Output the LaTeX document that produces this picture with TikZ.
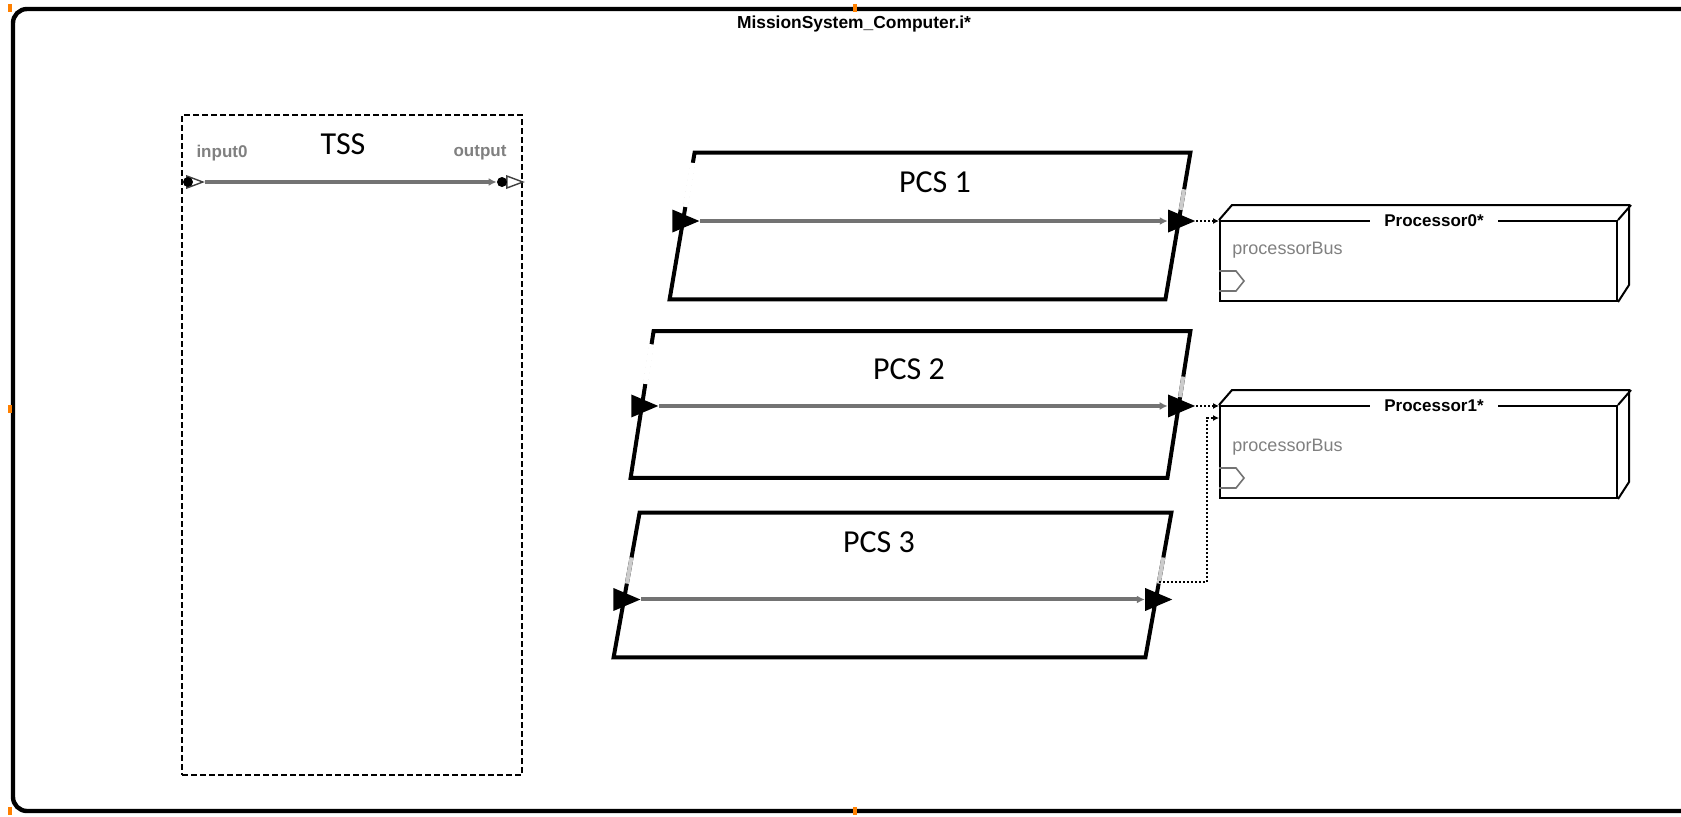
\documentclass[tikz,border=0pt]{standalone}
\usepackage{fontspec}
\setmainfont{Liberation Sans}
\newfontfamily\pcsfont{Carlito}
\usetikzlibrary{positioning,arrows.meta,shapes.geometric,calc}

\begin{document}
\begin{tikzpicture}[
    x=0.5pt, y=-0.5pt,
    font=\fontsize{8.5}{10}\selectfont,
    >={Latex[length=3pt,width=3pt]},
    frame/.style={line width=2.2pt, rounded corners=7pt},
    frametitle/.style={font=\bfseries\fontsize{8.7}{10}\selectfont},
    tssbox/.style={
        draw, line width=1pt,
        dash pattern=on 3pt off 1.5pt,
        minimum width=170pt,
        minimum height=330pt,
        inner sep=0pt
    },
    pcs/.style={
        minimum height=73pt,
        inner sep=0pt
    },
    pcsedge/.style={line width=2pt},
    blocklbl/.style={font=\pcsfont\fontsize{16}{18}\selectfont},
    proc/.style={
        draw, line width=1pt,
        minimum width=198.5pt,
        inner sep=0pt
    },
    procline/.style={line width=1pt},
    proctitle/.style={
        fill=white, inner xsep=7pt, inner ysep=1pt,
        font=\bfseries\fontsize{8.5}{10}\selectfont
    },
    portlbl/.style={text=black!50, font=\bfseries\fontsize{8.5}{10}\selectfont},
    buslbl/.style={text=black!50, anchor=west, font=\fontsize{9}{11}\selectfont},
    busport/.style={draw=black!55, line width=0.8pt},
    inport/.style={
        isosceles triangle, isosceles triangle stretches,
        fill=black, inner sep=0pt, xshift=-1.5pt,
        minimum height=13.5pt, minimum width=11.5pt
    },
    openport/.style={
        isosceles triangle, isosceles triangle stretches,
        draw=black!75, fill=white, line width=0.7pt, inner sep=0pt,
        minimum height=8pt, minimum width=6pt
    },
    dot/.style={circle, fill=black, inner sep=0pt, minimum size=5pt},
    flow/.style={draw=black!55, line width=2pt, -{Latex[length=4pt,width=4pt]}},
    link/.style={line width=1pt, dash pattern=on 1pt off 1pt, -{Latex[length=3pt,width=3pt]}},
    gap/.style={draw=white, line width=2.6pt},
    fade/.style={draw=black!20, line width=2pt}
]

\useasboundingbox (0,0) rectangle (1681,816);
\clip (0,0) rectangle (1681,816);

% Outer frame
\draw[frame] (1700,9) -- (13,9) -- (13,811) -- (1700,811);
\foreach \hx/\hy in {10/8, 855/8, 10/409, 10/811, 855/811}
    \fill[orange] (\hx-2,\hy-4) rectangle (\hx+2,\hy+4);
\node[frametitle] (msc) at (854,24) {MissionSystem\_Computer.i*};

% TSS
\node[tssbox] (tss) at (352,445) {};
\node[blocklbl] (tsslbl) at (343,144) {TSS};
\node[portlbl] (in0lbl) at (222,153) {input0};
\node[portlbl] (outlbl) at (480,153) {output};
\node[openport] (tssin) at (191,182) {};
\node[openport] (tssout) at (511,182) {};
\node[dot] (tssindot) at (188,182) {};
\node[dot] (tssoutdot) at (502,182) {};
\draw[flow] (tssin.east) -- (tssoutdot);

% PCS blocks
\node[pcs, minimum width=260pt] (pcs1) at (930,226) {};
\node[pcs, minimum width=279.5pt] (pcs2) at (910.5,404.5) {};
\node[pcs, minimum width=278.5pt, minimum height=72pt] (pcs3) at (892.5,585) {};

\foreach \n/\s in {pcs1/12.5, pcs2/11.5, pcs3/13} {
    \coordinate (\n-tl) at ([xshift=\s pt]\n.north west);
    \coordinate (\n-tr) at (\n.north east);
    \coordinate (\n-br) at ([xshift=-\s pt]\n.south east);
    \coordinate (\n-bl) at (\n.south west);
    \draw[pcsedge] (\n-tl) -- (\n-tr) -- (\n-br) -- (\n-bl) -- cycle;
}

\node[blocklbl] (pcs1lbl) at (935,182) {PCS 1};
\node[blocklbl] (pcs2lbl) at (909,369) {PCS 2};
\node[blocklbl] (pcs3lbl) at (879,542) {PCS 3};

% Broken edges near the ports
\draw[gap]  ($(pcs1-tl)!0.07!(pcs1-bl)$) -- ($(pcs1-tl)!0.37!(pcs1-bl)$);
\draw[fade] ($(pcs1-tr)!0.25!(pcs1-br)$) -- ($(pcs1-tr)!0.39!(pcs1-br)$);
\draw[gap]  ($(pcs2-tl)!0.09!(pcs2-bl)$) -- ($(pcs2-tl)!0.36!(pcs2-bl)$);
\draw[fade] ($(pcs2-tr)!0.31!(pcs2-br)$) -- ($(pcs2-tr)!0.45!(pcs2-br)$);
\draw[fade] ($(pcs3-tl)!0.31!(pcs3-bl)$) -- ($(pcs3-tl)!0.49!(pcs3-bl)$);
\draw[fade] ($(pcs3-tr)!0.31!(pcs3-br)$) -- ($(pcs3-tr)!0.49!(pcs3-br)$);

% Ports and flows
\node[inport] (pcs1in)  at ($(pcs1-tl)!0.466!(pcs1-bl)$) {};
\node[inport] (pcs1out) at ($(pcs1-tr)!0.466!(pcs1-br)$) {};
\node[inport] (pcs2in)  at ($(pcs2-tl)!0.51!(pcs2-bl)$) {};
\node[inport] (pcs2out) at ($(pcs2-tr)!0.51!(pcs2-br)$) {};
\node[inport] (pcs3in)  at ($(pcs3-tl)!0.60!(pcs3-bl)$) {};
\node[inport] (pcs3out) at ($(pcs3-tr)!0.60!(pcs3-br)$) {};
\coordinate (pcs3bus) at ($(pcs3-tr)!0.48!(pcs3-br)$);

\draw[flow] (pcs1in.east) -- (pcs1out.west);
\draw[flow] (pcs2in.east) -- (pcs2out.west);
\draw[flow] (pcs3in.east) -- (pcs3out.west);

% Processors
\node[proc, minimum height=40pt] (proc0) at (1418.5,261) {};
\node[proc, minimum height=46pt] (proc1) at (1418.5,452) {};

\draw[procline] (proc0.north west) -- ++(13,-15) -- ++(397,0) -- ++(0,80) -- (proc0.south east);
\draw[procline] (proc0.north east) -- ++(13,-15);
\draw[procline] (proc1.north west) -- ++(13,-15) -- ++(397,0) -- ++(0,92) -- (proc1.south east);
\draw[procline] (proc1.north east) -- ++(13,-15);

\node[proctitle] (p0title) at (1434,221) {Processor0*};
\node[proctitle] (p1title) at (1434,406) {Processor1*};

\node[buslbl] (bus0) at ([xshift=3.2pt, yshift=26pt]proc0.south west) {processorBus};
\node[buslbl] (bus1) at ([xshift=3.2pt, yshift=26pt]proc1.south west) {processorBus};
\draw[busport] ([yshift=5.5pt]proc0.south west) -- ++(17,0) -- ++(8,-10) -- ++(-8,-10) -- ++(-17,0);
\draw[busport] ([yshift=5.5pt]proc1.south west) -- ++(17,0) -- ++(8,-10) -- ++(-8,-10) -- ++(-17,0);

% Bus links
\draw[link] (pcs1out.east) -- (pcs1out.east -| proc0.west);
\draw[link] (pcs2out.east) -- (pcs2out.east -| proc1.west);
\draw[link] (pcs3bus) -- ++(48,0) |- ([yshift=-6.5pt]proc1.north west);

\end{tikzpicture}
\end{document}
